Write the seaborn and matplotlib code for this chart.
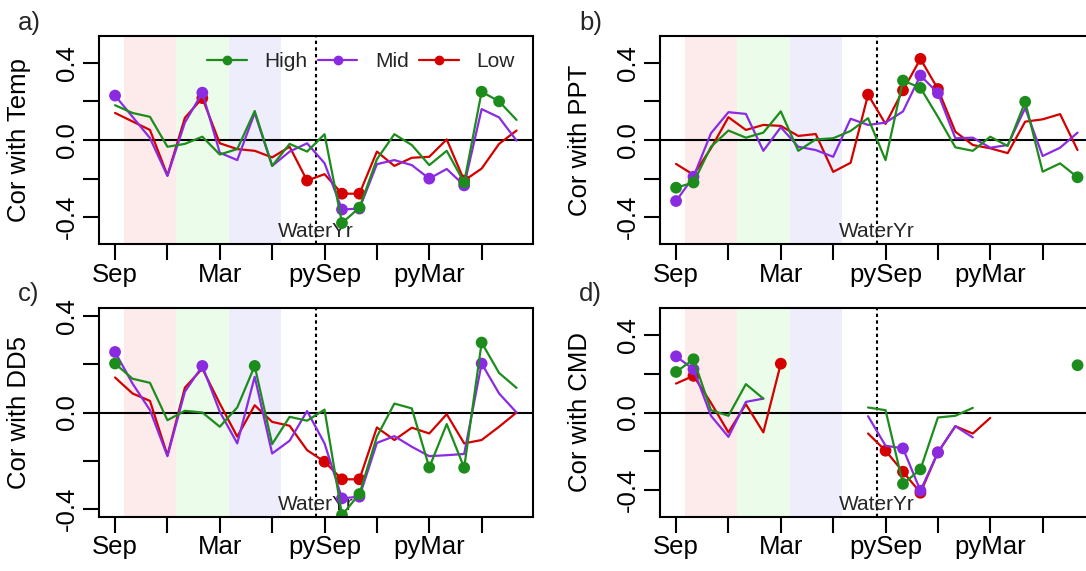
import numpy as np
import pandas as pd
import matplotlib
matplotlib.use("Agg")
import matplotlib.pyplot as plt
from matplotlib.lines import Line2D
import seaborn as sns

# ---------------- data ----------------
months = list(range(1, 25))
tick_pos = [1, 4, 7, 10, 13, 16, 19, 22]
tick_labels = ["Sep", "", "Mar", "", "pySep", "", "pyMar", ""]
ytick_pos = [-0.4, -0.2, 0.0, 0.2, 0.4]
ytick_labels = ["-0.4", "", "0.0", "", "0.4"]
series_names = ["High", "Mid", "Low"]
panel_letters = ["a)", "b)", "c)", "d)"]
climate_vars = ["Temp", "PPT", "DD5", "CMD"]
water_year_label = "WaterYr"
nan = np.nan

temp_high = [0.18, 0.14, 0.12, -0.035, -0.02, 0.017, -0.075, -0.047, 0.15, -0.134, -0.02, -0.06,
             0.03, -0.43, -0.35, -0.10, 0.03, -0.026, -0.13, -0.056, -0.22, 0.25, 0.20, 0.104]
temp_high_sig = [14, 15, 21, 22, 23]
temp_mid = [0.23, 0.12, 0.01, -0.186, 0.09, 0.245, -0.066, -0.104, 0.14, -0.134, -0.06, -0.017,
            -0.12, -0.36, -0.355, -0.125, -0.104, -0.13, -0.2, -0.15, -0.235, 0.16, 0.117, -0.003]
temp_mid_sig = [1, 6, 14, 15, 19, 21]
temp_low = [0.14, 0.096, 0.052, -0.183, 0.115, 0.217, -0.017, -0.047, -0.056, -0.09, -0.035, -0.21,
            -0.177, -0.278, -0.278, -0.06, -0.134, -0.092, -0.087, 0.003, -0.21, -0.148, -0.02, 0.049]
temp_low_sig = [6, 12, 14, 15, 21]

ppt_high = [-0.247, -0.22, -0.035, 0.049, 0.012, 0.038, 0.148, -0.056, 0.003, 0.009, 0.047, 0.113,
            -0.104, 0.308, 0.27, 0.12, -0.038, -0.056, 0.017, -0.031, 0.198, -0.164, -0.121, -0.193]
ppt_high_sig = [1, 2, 14, 15, 21, 24]
ppt_mid = [-0.316, -0.19, 0.035, 0.144, 0.135, -0.056, 0.066, -0.035, -0.052, -0.087, 0.11, 0.078,
           0.09, 0.148, 0.334, 0.243, 0.009, 0.012, -0.04, -0.026, 0.165, -0.083, -0.04, 0.038]
ppt_mid_sig = [1, 2, 15, 16]
ppt_low = [-0.124, -0.18, -0.043, 0.118, 0.052, 0.078, 0.073, 0.021, 0.031, -0.165, -0.118, 0.235,
           0.083, 0.257, 0.42, 0.264, 0.043, -0.026, -0.043, -0.068, 0.095, 0.107, 0.134, -0.052]
ppt_low_sig = [12, 14, 15, 16]

dd5_high = [0.203, 0.14, 0.123, -0.032, 0.007, 0.0, -0.059, 0.021, 0.193, -0.131, -0.018, -0.034,
            0.012, -0.425, -0.338, -0.1, 0.037, 0.017, -0.228, -0.048, -0.229, 0.29, 0.164, 0.102]
dd5_high_sig = [1, 9, 14, 15, 19, 21, 22]
dd5_mid = [0.251, 0.12, 0.01, -0.181, 0.086, 0.193, 0.003, -0.128, 0.148, -0.17, -0.117, 0.006,
           -0.128, -0.356, -0.349, -0.126, -0.098, -0.142, -0.181, -0.177, -0.172, 0.203, 0.079, 0.0]
dd5_mid_sig = [1, 6, 14, 15, 22]
dd5_low = [0.145, 0.079, 0.048, -0.177, 0.103, 0.182, 0.037, -0.1, 0.03, -0.039, -0.055, -0.156,
           -0.204, -0.277, -0.277, -0.062, -0.114, -0.063, -0.087, -0.007, -0.128, -0.114, -0.059, 0.0]
dd5_low_sig = [13, 14, 15]

cmd_high = [0.21, 0.276, 0.012, -0.017, 0.147, 0.072, nan, nan, nan, nan, nan, 0.026,
            0.012, -0.37, -0.295, -0.026, -0.017, 0.024, nan, nan, nan, nan, nan, 0.245]
cmd_high_sig = [1, 2, 14, 15, 24]
cmd_mid = [0.291, 0.224, -0.017, -0.126, 0.055, 0.072, nan, nan, nan, nan, nan, -0.019,
           -0.172, -0.186, -0.405, -0.207, -0.071, -0.129, nan, nan, nan, nan, nan, nan]
cmd_mid_sig = [1, 2, 14, 15, 16]
cmd_low = [0.15, 0.19, 0.05, -0.103, 0.043, -0.103, 0.253, nan, nan, nan, nan, -0.109,
           -0.198, -0.307, -0.416, -0.207, -0.071, -0.109, -0.028, nan, nan, nan, nan, nan]
cmd_low_sig = [2, 7, 13, 14, 15, 16]

panel_data = [
    {"High": (temp_high, temp_high_sig), "Mid": (temp_mid, temp_mid_sig), "Low": (temp_low, temp_low_sig)},
    {"High": (ppt_high, ppt_high_sig), "Mid": (ppt_mid, ppt_mid_sig), "Low": (ppt_low, ppt_low_sig)},
    {"High": (dd5_high, dd5_high_sig), "Mid": (dd5_mid, dd5_mid_sig), "Low": (dd5_low, dd5_low_sig)},
    {"High": (cmd_high, cmd_high_sig), "Mid": (cmd_mid, cmd_mid_sig), "Low": (cmd_low, cmd_low_sig)},
]
panel_ylims = [(-0.54, 0.54), (-0.54, 0.54), (-0.432, 0.432), (-0.54, 0.54)]

# ---------------- style ----------------
sns.set_theme(style="white")
plt.rcParams["font.family"] = ["Liberation Sans", "DejaVu Sans"]
plt.rcParams["axes.linewidth"] = 1.5

palette = {"High": "#1C8C1C", "Mid": "#8A2BE2", "Low": "#D40000"}
draw_order = ["Low", "Mid", "High"]
season_spans = [(1.5, 4.5, "#FDEAEA"), (4.5, 7.5, "#ECFCEA"), (7.5, 10.5, "#EDEDFC")]

W, H = 1086, 571
fig = plt.figure(figsize=(W / 100, H / 100), dpi=100)

# axes boxes in pixels (left, top, right, bottom)
boxes = [(99, 35.7, 532.6, 244.3), (660, 35.7, 1093.6, 244.3),
         (99, 308.3, 532.6, 516.7), (660, 308.3, 1093.6, 516.7)]
letter_pos = [(18, 30), (579, 30), (18, 300.5), (579, 300.5)]

FS = 18.5


def long_frame(pdata):
    rows = []
    for name, (vals, sig) in pdata.items():
        seg = 0
        prev_nan = True
        for m, v in zip(months, vals):
            if np.isnan(v):
                prev_nan = True
                continue
            if prev_nan:
                seg += 1
                prev_nan = False
            rows.append({"series": name, "month": m, "value": v, "seg": seg, "sig": m in sig})
    return pd.DataFrame(rows)


for i, (pdata, ylim, var) in enumerate(zip(panel_data, panel_ylims, climate_vars)):
    l, t, r, b = boxes[i]
    ax = fig.add_axes([l / W, 1 - b / H, (r - l) / W, (b - t) / H])
    df = long_frame(pdata)

    for x0, x1, c in season_spans:
        ax.axvspan(x0, x1, color=c, lw=0, zorder=0.5)
    ax.axhline(0, color="black", lw=1.5, zorder=2)
    ax.axvline(12.5, color="black", lw=1.5, ls=(0, (1.6, 1.6)), zorder=2)
    ax.text(12.5, 0.033, water_year_label, transform=ax.get_xaxis_transform(),
            ha="center", va="baseline", fontsize=15, zorder=2.2)

    for k, name in enumerate(draw_order):
        d = df[df.series == name]
        sns.lineplot(data=d, x="month", y="value", units="seg", estimator=None,
                     color=palette[name], lw=1.6, ax=ax, legend=False, sort=False,
                     zorder=3 + 2 * k)
        s = d[d.sig]
        sns.scatterplot(data=s, x="month", y="value", color=palette[name], s=72,
                        edgecolor="none", linewidth=0, ax=ax, legend=False,
                        zorder=4 + 2 * k)

    ax.set_xlim(0.08, 24.92)
    ax.set_ylim(*ylim)
    ax.set_xticks(tick_pos)
    ax.set_xticklabels(tick_labels)
    ax.set_yticks(ytick_pos)
    ax.set_yticklabels(ytick_labels)
    ax.tick_params(axis="both", direction="out", length=11.5, width=1.5,
                   labelsize=FS, colors="black", bottom=True, left=True)
    ax.tick_params(axis="x", pad=2)
    ax.tick_params(axis="y", pad=3)
    for lab in ax.get_yticklabels():
        lab.set_rotation(90)
        lab.set_va("center")
    ax.set_xlabel("")
    ax.set_ylabel("Cor with " + var, fontsize=FS, color="black")
    ax.yaxis.set_label_coords(-0.157, 0.5)
    for sp in ax.spines.values():
        sp.set_color("black")
        sp.set_linewidth(1.5)
        sp.set_zorder(20)
    ax.grid(False)

    lx, ly = letter_pos[i]
    fig.text(lx / W, 1 - ly / H, panel_letters[i], fontsize=FS, va="baseline", ha="left")

    if i == 0:
        handles = [Line2D([], [], color=palette[n], lw=1.6, marker="o", markersize=6)
                   for n in series_names]
        ax.legend(handles, series_names, loc="center left",
                  bbox_to_anchor=(207 / W, 1 - 61.7 / H), bbox_transform=fig.transFigure,
                  ncol=3, frameon=False, fontsize=15, handlelength=1.9,
                  handletextpad=0.85, columnspacing=0.5, borderpad=0, borderaxespad=0)

fig.savefig("out.png", dpi=100)
